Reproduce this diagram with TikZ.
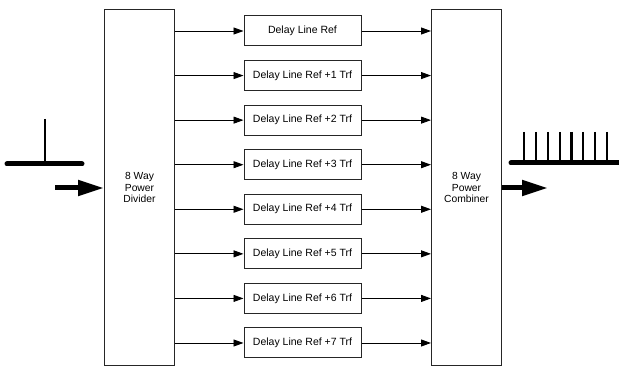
\documentclass[tikz,border=0pt]{standalone}
\usepackage{fontspec}
\setmainfont{Liberation Sans}
\usetikzlibrary{arrows.meta}
\begin{document}
\begin{tikzpicture}[x=1pt,y=-1pt,
  blk/.style={draw=black!85, line width=1, minimum width=70, minimum height=356, anchor=north west, inner sep=0, align=center, font=\fontsize{10.3}{11.5}\selectfont},
  dly/.style={draw=black!85, line width=1, minimum width=117, minimum height=30, inner sep=0, font=\fontsize{10.5}{11}\selectfont},
  conn/.style={line width=0.9, -{Triangle[length=10,width=7]}},
  fat/.style={line width=5, line cap=round},
  fatarrow/.style={line width=5, -{Triangle[length=26,width=15]}},
  spike/.style={line width=2.5}]
\useasboundingbox (0,0) rectangle (619,366);
\node[blk] (div) at (104,9) {8 Way\\Power\\Divider};
\node[blk] (comb) at (431,9) {8 Way\\Power\\Combiner};
\foreach \i/\t [count=\k from 0] in {1/Delay Line Ref,2/Delay Line Ref +1 Trf,3/Delay Line Ref +2 Trf,4/Delay Line Ref +3 Trf,5/Delay Line Ref +4 Trf,6/Delay Line Ref +5 Trf,7/Delay Line Ref +6 Trf,8/Delay Line Ref +7 Trf}{
  \node[dly] (d\i) at (302.5,31+44.57*\k) {\t};
  \draw[conn] (div.east |- d\i) -- (d\i.west);
  \draw[conn] (d\i.east) -- (comb.west |- d\i);
}
% input signal
\coordinate (inA) at (7,164);
\coordinate (inB) at (82,164);
\coordinate (inT) at (45,119);
\coordinate (inS) at (45,164);
\draw[fat] (inA) -- (inB);
\draw[spike] (inT) -- (inS);
\coordinate (inArr) at (55,188);
\draw[fatarrow] (inArr) -- (div.west |- inArr);
% output signal
\coordinate (outA) at (511,163);
\coordinate (outB) at (625,163);
\draw[fat] (outA) -- (outB);
\foreach \x in {524,536,548,560,571.5,583,595,607}{
  \draw[spike] (\x,132) -- (\x,163);
}
\coordinate (outArr) at (548,188);
\draw[fatarrow] (comb.east |- outArr) -- (outArr);
\end{tikzpicture}
\end{document}
